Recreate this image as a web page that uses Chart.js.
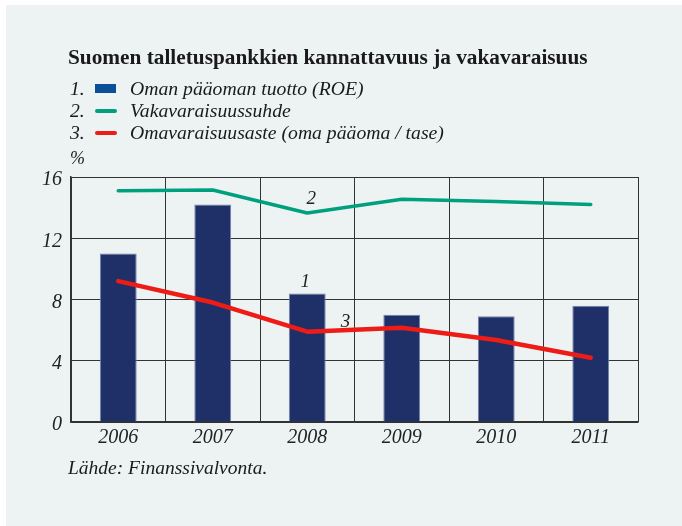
<!DOCTYPE html>
<html>
<head>
<meta charset="utf-8">
<script src="https://cdn.jsdelivr.net/npm/chart.js@4/dist/chart.umd.min.js"></script>
<style>
  html, body { margin:0; padding:0; background:#ffffff; }
  #wrap { position:relative; width:682px; height:526px; overflow:hidden; }
  #panel { position:absolute; left:6px; top:5px; right:0; bottom:0; background:#edf3f3; }
  canvas { position:absolute; left:0; top:0; }
  .t { position:absolute; font-family:"Liberation Serif","DejaVu Serif",serif; color:#1a1a1a; white-space:nowrap; line-height:1; }
  #title { left:68px; top:47px; font-size:21.3px; font-weight:bold; }
  .leg { left:70px; font-size:19.7px; font-style:italic; }
  .num { position:absolute; left:0; }
  .sw { position:absolute; left:25px; }
  .lt { position:absolute; left:60px; }
  #pct { left:70px; top:149px; font-size:18px; font-style:italic; }
  #src { left:68px; top:458px; font-size:19.5px; font-style:italic; }
</style>
</head>
<body>
<div id="wrap">
  <div id="panel"></div>
  <canvas id="c" width="682" height="526"></canvas>
  <div class="t" id="title">Suomen talletuspankkien kannattavuus ja vakavaraisuus</div>
  <div class="t leg" style="top:79px"><span class="num">1.</span><span class="sw" style="top:5px;width:21px;height:9px;background:#0b4f97"></span><span class="lt">Oman pääoman tuotto (ROE)</span></div>
  <div class="t leg" style="top:101px"><span class="num">2.</span><span class="sw" style="top:8px;width:22px;height:4px;border-radius:2px;background:#00a07e"></span><span class="lt">Vakavaraisuussuhde</span></div>
  <div class="t leg" style="top:123px"><span class="num">3.</span><span class="sw" style="top:8px;width:22px;height:4px;border-radius:2px;background:#ee1c16"></span><span class="lt">Omavaraisuusaste (oma pääoma / tase)</span></div>
  <div class="t" id="pct">%</div>
  <div class="t" id="src">Lähde: Finanssivalvonta.</div>
</div>
<script>
const years = ['2006','2007','2008','2009','2010','2011'];
const roe = [11.0, 14.2, 8.4, 7.0, 6.9, 7.6];
const vakavaraisuus = [15.1, 15.15, 13.65, 14.55, 14.4, 14.2];
const omavaraisuus = [9.2, 7.8, 5.9, 6.15, 5.35, 4.2];
const yTicks = [0, 4, 8, 12, 16];

const labelPlugin = {
  id: 'seriesLabels',
  afterDatasetsDraw(chart) {
    const ctx = chart.ctx;
    ctx.save();
    ctx.font = 'italic 19px "Liberation Serif", serif';
    ctx.fillStyle = '#222';
    ctx.textAlign = 'center';
    ctx.textBaseline = 'middle';
    const bar = chart.getDatasetMeta(0).data[2];
    ctx.fillText('1', bar.x - 2, bar.y - 11);
    const g = chart.getDatasetMeta(1).data[2];
    ctx.fillText('2', g.x + 4, g.y - 14);
    const r1 = chart.getDatasetMeta(2).data[2], r2 = chart.getDatasetMeta(2).data[3];
    ctx.fillText('3', (r1.x + r2.x) / 2 - 9, (r1.y + r2.y) / 2 - 8);
    ctx.restore();
  }
};

new Chart(document.getElementById('c'), {
  data: {
    labels: years,
    datasets: [
      { type: 'bar', data: roe, backgroundColor: '#1f3068', borderColor: '#7583ab', borderWidth: 1,
        barPercentage: 0.39, categoryPercentage: 1.0, order: 3 },
      { type: 'line', data: vakavaraisuus, borderColor: '#00a07e', borderWidth: 3.5, pointRadius: 0,
        tension: 0, borderCapStyle: 'round', borderJoinStyle: 'round', order: 2 },
      { type: 'line', data: omavaraisuus, borderColor: '#ee1c16', borderWidth: 4.5, pointRadius: 0,
        tension: 0, borderCapStyle: 'round', borderJoinStyle: 'round', order: 1 }
    ]
  },
  options: {
    responsive: false,
    animation: false,
    devicePixelRatio: 1,
    layout: { padding: { top: 177, left: 0, right: 44, bottom: 74 } },
    plugins: { legend: { display: false }, tooltip: { enabled: false } },
    scales: {
      x: {
        offset: true,
        grid: { offset: true, color: '#333', lineWidth: 1, drawTicks: false },
        border: { color: '#333', width: 1.5 },
        ticks: { color: '#222', font: { family: '"Liberation Serif", serif', style: 'italic', size: 20 }, padding: 4 },
        afterFit(s) { s.height = 30; }
      },
      y: {
        min: 0, max: 16,
        afterBuildTicks(s) { s.ticks = yTicks.map(v => ({ value: v })); },
        grid: { color: '#333', lineWidth: 1, drawTicks: false },
        border: { color: '#333', width: 1.5 },
        ticks: { color: '#222', font: { family: '"Liberation Serif", serif', style: 'italic', size: 20 }, padding: 9, labelOffset: 3 },
        afterFit(s) { s.width = 71; }
      }
    }
  },
  plugins: [labelPlugin]
});
</script>
</body>
</html>
